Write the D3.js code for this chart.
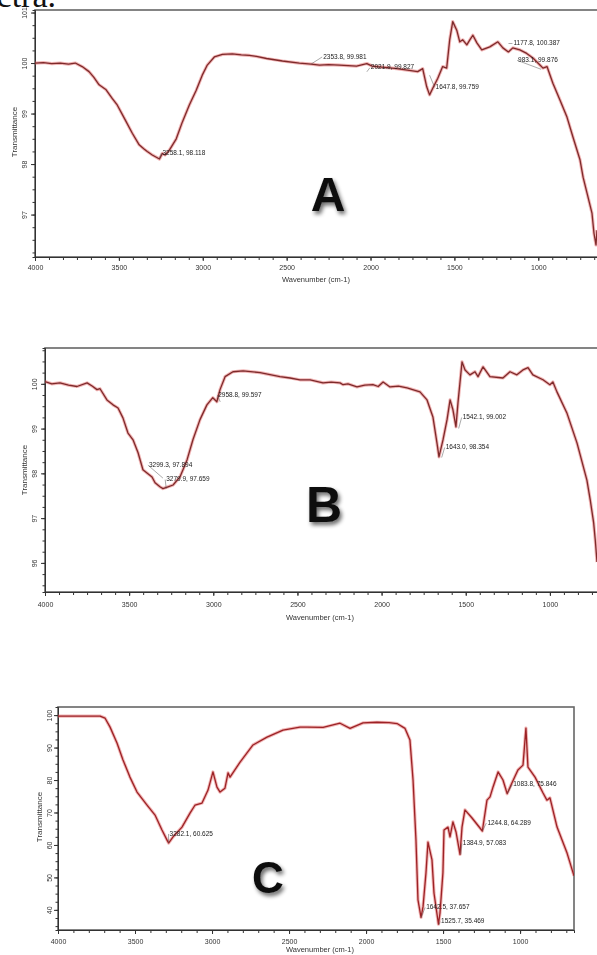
<!DOCTYPE html>
<html><head><meta charset="utf-8">
<script src="https://cdn.jsdelivr.net/npm/d3@7"></script>
<style>html,body{margin:0;padding:0;background:#fff;}svg{display:block;}</style>
</head><body>
<script>
// ---------- DATA ----------
const xMajorTicks = [4000, 3500, 3000, 2500, 2000, 1500, 1000];

const wnA = [4000,3950,3900,3850,3800,3760,3719,3678,3650,3618,3576,3540,3510,3468,3420,3379,3350,3331,3301,3258,3241,3225,3200,3158,3122,3080,3039,3003,2973,2931,2883,2824,2770,2722,2680,2620,2525,2424,2354,2304,2250,2185,2083,2022,1990,1964,1900,1844,1780,1719,1689,1665,1648,1629,1599,1570,1546,1528,1510,1486,1468,1450,1426,1408,1390,1366,1337,1289,1241,1211,1178,1152,1110,1069,1032,990,972,948,913,871,829,793,751,733,709,680,668,656,650];
const tA  = [100.00,100.01,99.99,100.00,99.98,100.00,99.93,99.83,99.72,99.57,99.47,99.30,99.17,98.91,98.61,98.38,98.30,98.25,98.18,98.10,98.21,98.18,98.27,98.50,98.83,99.17,99.46,99.76,99.96,100.12,100.17,100.18,100.16,100.15,100.13,100.09,100.04,100.00,99.98,99.96,99.97,99.96,99.94,99.99,99.94,99.93,99.91,99.89,99.86,99.83,99.89,99.53,99.37,99.50,99.70,99.93,99.90,100.46,100.82,100.65,100.42,100.46,100.36,100.46,100.55,100.40,100.26,100.32,100.42,100.30,100.22,100.30,100.26,100.19,100.10,99.96,99.90,99.93,99.60,99.27,98.93,98.53,98.08,97.74,97.42,97.03,96.63,96.40,96.69];
const yTicksA = [97, 98, 99, 100, 101];
const peaksA = [
  {wn: 3258.1, t: 98.118,  text: "3258.1, 98.118"},
  {wn: 2353.8, t: 99.981,  text: "2353.8, 99.981"},
  {wn: 2021.9, t: 99.827,  text: "2021.9, 99.827"},
  {wn: 1647.8, t: 99.759,  text: "1647.8, 99.759"},
  {wn: 1177.8, t: 100.387, text: "1177.8, 100.387"},
  {wn: 983.1,  t: 99.876,  text: "983.1, 99.876"}
];

const wnB = [4000,3960,3911,3860,3810,3750,3720,3691,3673,3632,3596,3566,3537,3507,3477,3447,3418,3394,3364,3346,3317,3299,3269,3239,3198,3156,3121,3079,3038,3003,2979,2960,2930,2883,2823,2722,2604,2544,2485,2425,2348,2300,2247,2229,2200,2146,2100,2051,2020,1991,1950,1900,1849,1772,1730,1695,1671,1659,1635,1611,1593,1576,1558,1546,1522,1504,1475,1445,1427,1397,1356,1279,1237,1196,1160,1130,1101,1041,1000,982,958,899,839,780,760,740,730,720];
const tB  = [100.05,100.00,100.02,99.97,99.94,100.02,99.95,99.87,99.89,99.64,99.53,99.46,99.24,98.90,98.75,98.46,98.08,98.01,97.92,97.79,97.70,97.66,97.70,97.74,97.92,98.30,98.75,99.20,99.53,99.69,99.60,99.87,100.16,100.27,100.29,100.25,100.16,100.13,100.09,100.09,100.02,100.04,100.02,99.98,100.00,99.93,99.97,99.98,99.94,100.04,99.93,99.95,99.91,99.82,99.64,99.26,98.68,98.37,98.75,99.20,99.64,99.42,99.04,99.58,100.49,100.31,100.20,100.27,100.16,100.38,100.16,100.13,100.27,100.20,100.31,100.36,100.20,100.09,99.98,100.04,99.82,99.35,98.68,97.85,97.40,96.90,96.50,96.02];
const yTicksB = [96, 97, 98, 99, 100];
const peaksB = [
  {wn: 3299.3, t: 97.894, text: "3299.3, 97.894"},
  {wn: 3279.9, t: 97.659, text: "3279.9, 97.659"},
  {wn: 2958.8, t: 99.597, text: "2958.8, 99.597"},
  {wn: 1542.1, t: 99.002, text: "1542.1, 99.002"},
  {wn: 1643.0, t: 98.354, text: "1643.0, 98.354"}
];

const wnC = [4000,3850,3727,3695,3662,3617,3578,3533,3487,3422,3370,3325,3292,3282,3253,3195,3143,3110,3065,3026,2994,2968,2948,2916,2896,2883,2818,2734,2643,2539,2429,2383,2279,2169,2104,2020,1929,1850,1799,1747,1715,1695,1676,1663,1643,1630,1611,1598,1572,1559,1530,1520,1501,1494,1468,1455,1436,1416,1390,1377,1358,1312,1245,1215,1195,1176,1143,1111,1084,1053,1014,981,962,949,903,851,826,806,760,695,656,650];
const tC  = [99.7,99.7,99.7,99.1,96.3,91.4,86.2,80.9,76.3,72.3,69.2,64.6,61.5,60.6,62.5,65.5,69.8,72.3,72.9,76.9,82.5,77.8,76.3,77.5,82.2,80.9,85.5,90.8,93.2,95.4,96.3,96.3,96.2,97.5,95.9,97.6,97.8,97.7,97.4,95.9,92.3,80.0,61.5,43.1,37.7,41.0,51.4,60.9,55.4,45.2,35.6,39.0,51.4,64.6,65.5,62.5,67.1,64.0,57.1,65.5,70.8,68.3,64.3,73.8,74.8,77.8,82.5,80.0,75.8,79.1,83.1,84.6,96.0,84.0,80.9,76.0,73.8,74.5,65.5,57.5,51.4,50.5];
const yTicksC = [40, 50, 60, 70, 80, 90, 100];
const peaksC = [
  {wn: 3282.1, t: 60.625, text: "3282.1, 60.625"},
  {wn: 1642.5, t: 37.657, text: "1642.5, 37.657"},
  {wn: 1525.7, t: 35.469, text: "1525.7, 35.469"},
  {wn: 1384.9, t: 57.083, text: "1384.9, 57.083"},
  {wn: 1244.8, t: 64.289, text: "1244.8, 64.289"},
  {wn: 1083.8, t: 75.846, text: "1083.8, 75.846"}
];

// ---------- LAYOUT / STYLE ----------
const panels = [
  {wn: wnA, t: tA, yTicks: yTicksA, peaks: peaksA, letter: "A",
   left: 35, right: 597, top: 10, bottom: 257, frameRight: 602,
   xDomain: [4000, 650], yDomain: [96.16, 101.05], yMinor: 0.25, xMinor: 500/6,
   yLabelX: 25, titleX: 15, titleY: 132, xLabelDy: 11, xTitleX: 316, xTitleY: 280,
   letterX: 328, letterY: 211, letterSize: 48,
   nudges: [[2,-5],[11,-7],[3,-4],[5,12],[4,0],[-24,-9]]},
  {wn: wnB, t: tB, yTicks: yTicksB, peaks: peaksB, letter: "B",
   left: 45, right: 597, top: 348, bottom: 592, frameRight: 602,
   xDomain: [4000, 720], yDomain: [95.35, 100.8], yMinor: 0.25, xMinor: 500/6,
   yLabelX: 35, titleX: 25, titleY: 470, xLabelDy: 13, xTitleX: 320, xTitleY: 618,
   letterX: 324, letterY: 522, letterSize: 50,
   nudges: [[-15,-13],[-1,-9],[-3,-7],[3,-11],[3,-10]]},
  {wn: wnC, t: tC, yTicks: yTicksC, peaks: peaksC, letter: "C",
   left: 58, right: 574, top: 707, bottom: 930, frameRight: 574,
   xDomain: [4000, 650], yDomain: [33.8, 102.5], yMinor: 2.5, xMinor: 100,
   yLabelX: 50, titleX: 40, titleY: 817, xLabelDy: 12, xTitleX: 320, xTitleY: 950,
   letterX: 268, letterY: 893, letterSize: 44,
   nudges: [[0,-9],[4,-10],[1,-3],[1,-11],[4,-8],[5,-9]]}
];

const svg = d3.select("body").append("svg").attr("width", 597).attr("height", 955)
  .style("font-family", "'Liberation Sans', Arial, sans-serif");

const defs = svg.append("defs");
const f = defs.append("filter").attr("id", "shadow").attr("x", "-30%").attr("y", "-30%").attr("width", "170%").attr("height", "170%");
f.append("feGaussianBlur").attr("in", "SourceAlpha").attr("stdDeviation", 2.2).attr("result", "b");
f.append("feOffset").attr("in", "b").attr("dx", 2).attr("dy", 3).attr("result", "o");
f.append("feComponentTransfer").attr("in", "o").attr("result", "o2")
  .append("feFuncA").attr("type", "linear").attr("slope", 0.6);
const m = f.append("feMerge");
m.append("feMergeNode").attr("in", "o2");
m.append("feMergeNode").attr("in", "SourceGraphic");
const soft = defs.append("filter").attr("id", "soft");
soft.append("feGaussianBlur").attr("stdDeviation", 0.35);

// caption fragment at top (cut by the page edge, as in the reference)
svg.append("text").attr("x", 56).attr("y", 7).attr("text-anchor", "end")
  .style("font-family", "'Liberation Serif', 'Times New Roman', serif").style("font-size", "34px")
  .attr("fill", "#111").text("spectra.");

panels.forEach((p, pi) => {
  const g = svg.append("g").attr("filter", "url(#soft)");
  const x = d3.scaleLinear().domain(p.xDomain).range([p.left, p.right]);
  const y = d3.scaleLinear().domain(p.yDomain).range([p.bottom, p.top]);

  // frame
  g.append("rect").attr("x", p.left).attr("y", p.top)
    .attr("width", p.frameRight - p.left).attr("height", p.bottom - p.top)
    .attr("fill", "none").attr("stroke", "#666").attr("stroke-width", 1.6);

  // x axis
  const xMinorVals = d3.range(p.xDomain[0], p.xDomain[1], -p.xMinor).filter(v => v >= p.xDomain[1]);
  g.append("g").attr("transform", `translate(0,${p.bottom})`)
    .call(d3.axisBottom(x).tickValues(xMinorVals).tickSize(3).tickFormat(""))
    .call(a => a.select(".domain").attr("stroke", "#333"))
    .call(a => a.selectAll("line").attr("stroke", "#333"));
  const xa = g.append("g").attr("transform", `translate(0,${p.bottom})`)
    .call(d3.axisBottom(x).tickValues(xMajorTicks.filter(v => v >= p.xDomain[1])).tickSize(4).tickPadding(p.xLabelDy - 7).tickFormat(d3.format("d")));
  xa.select(".domain").remove();
  xa.selectAll("line").attr("stroke", "#333");
  xa.selectAll("text").attr("fill", "#333").style("font-size", "7px");

  // y axis
  const yMinorVals = d3.range(Math.ceil(p.yDomain[0] / p.yMinor) * p.yMinor, p.yDomain[1], p.yMinor);
  g.append("g").attr("transform", `translate(${p.left},0)`)
    .call(d3.axisLeft(y).tickValues(yMinorVals).tickSize(2.5).tickFormat(""))
    .call(a => a.select(".domain").attr("stroke", "#333"))
    .call(a => a.selectAll("line").attr("stroke", "#333"));
  const ya = g.append("g").attr("transform", `translate(${p.left},0)`)
    .call(d3.axisLeft(y).tickValues(p.yTicks).tickSize(4).tickFormat(d3.format("d")));
  ya.select(".domain").remove();
  ya.selectAll("line").attr("stroke", "#333");
  ya.selectAll("text")
    .attr("x", null).attr("dy", null)
    .attr("text-anchor", "middle").attr("dominant-baseline", "middle")
    .attr("transform", `translate(${p.yLabelX - p.left},0) rotate(-90)`)
    .attr("fill", "#333").style("font-size", "7px");

  // axis titles
  g.append("text").attr("transform", `translate(${p.titleX},${p.titleY}) rotate(-90)`)
    .attr("text-anchor", "middle").attr("dominant-baseline", "middle")
    .style("font-size", "8px").attr("fill", "#333").text("Transmittance");
  g.append("text").attr("x", p.xTitleX).attr("y", p.xTitleY)
    .attr("text-anchor", "middle").attr("dominant-baseline", "middle")
    .style("font-size", "7.5px").attr("fill", "#333").text("Wavenumber (cm-1)");

  // spectrum
  const clipId = "clip" + pi;
  defs.append("clipPath").attr("id", clipId).append("rect")
    .attr("x", p.left).attr("y", p.top).attr("width", p.right - p.left).attr("height", p.bottom - p.top);
  const pts = p.wn.map((w, i) => [w, p.t[i]]);
  const line = d3.line().x(d => x(d[0])).y(d => y(d[1]));
  const cg = g.append("g").attr("clip-path", `url(#${clipId})`);
  cg.append("path").datum(pts).attr("d", line).attr("fill", "none")
    .attr("stroke", "#e05a5a").attr("stroke-opacity", 0.45).attr("stroke-width", 3.2).attr("stroke-linejoin", "round");
  cg.append("path").datum(pts).attr("d", line).attr("fill", "none")
    .attr("stroke", pi === 2 ? "#9c2326" : "#7e2a2c").attr("stroke-width", 1.3).attr("stroke-linejoin", "round");

  // peak labels
  p.peaks.forEach((pk, i) => {
    const [dx, dy] = p.nudges[i];
    const px = x(pk.wn), py = y(pk.t);
    g.append("line").attr("x1", px).attr("y1", py).attr("x2", px + dx).attr("y2", py + dy)
      .attr("stroke", "#555").attr("stroke-width", 0.5);
    g.append("text").attr("x", px + dx + 1).attr("y", py + dy)
      .attr("dominant-baseline", "middle").style("font-size", "6.5px").attr("fill", "#222")
      .text(pk.text);
  });

  // panel letter
  svg.append("text").attr("x", p.letterX).attr("y", p.letterY).attr("text-anchor", "middle")
    .style("font-family", "'Liberation Sans', Arial, sans-serif").style("font-weight", "bold")
    .style("font-size", p.letterSize + "px").attr("fill", "#111").attr("filter", "url(#shadow)")
    .text(p.letter);
});
</script>
</body></html>
